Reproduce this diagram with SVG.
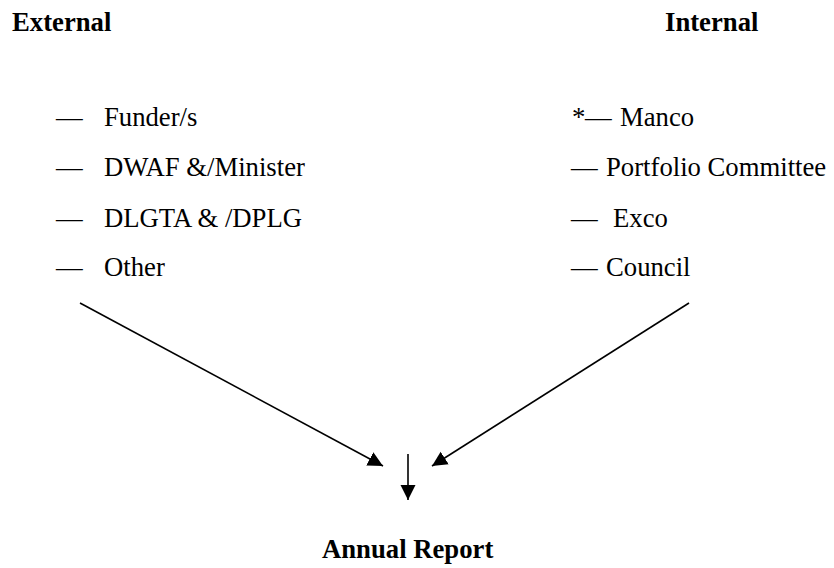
<svg xmlns="http://www.w3.org/2000/svg" width="834" height="568" viewBox="0 0 834 568">
  <style>
    .t { font-family: 'Liberation Serif', 'DejaVu Serif', serif; font-size: 26.7px; fill: #000; }
    .title { font-weight: bold; }
    .conn { stroke: #000; stroke-width: 1.6; fill: none; }
  </style>
  <defs>
    <marker id="arrow" markerUnits="userSpaceOnUse" markerWidth="16" markerHeight="16" viewBox="0 0 16 16" refX="15" refY="8" orient="auto">
      <path d="M0,0.5 L15,8 L0,15.5 Z" fill="#000"/>
    </marker>
  </defs>
  <rect width="834" height="568" fill="#fff"/>

  <g font-family="Liberation Serif, DejaVu Serif, serif" font-size="26.7">
  <g id="external-title"><text class="t title" x="12" y="31">External</text></g>
  <g id="internal-title"><text class="t title" x="665" y="31">Internal</text></g>

  <g id="funders"><text class="t" x="56" y="126">—</text><text class="t" x="104" y="126">Funder/s</text></g>
  <g id="dwaf"><text class="t" x="56" y="176">—</text><text class="t" x="104" y="176">DWAF &amp;/Minister</text></g>
  <g id="dlgta"><text class="t" x="56" y="227">—</text><text class="t" x="104" y="227">DLGTA &amp; /DPLG</text></g>
  <g id="other"><text class="t" x="56" y="276">—</text><text class="t" x="104" y="276">Other</text></g>

  <g id="manco"><text class="t" x="572" y="126">*</text><text class="t" x="585" y="126">—</text><text class="t" x="620" y="126">Manco</text></g>
  <g id="portfolio"><text class="t" x="571" y="176">—</text><text class="t" x="606" y="176">Portfolio Committee</text></g>
  <g id="exco"><text class="t" x="571" y="227">—</text><text class="t" x="613" y="227">Exco</text></g>
  <g id="council"><text class="t" x="571" y="276">—</text><text class="t" x="606" y="276">Council</text></g>

  <g id="annual-report"><text class="t title" x="322" y="558">Annual Report</text></g>
  </g>

  <g id="connectors">
    <line class="conn" x1="80" y1="303" x2="383" y2="466" marker-end="url(#arrow)"/>
    <line class="conn" x1="689" y1="303" x2="432" y2="466" marker-end="url(#arrow)"/>
    <line class="conn" x1="408" y1="454" x2="408" y2="500" marker-end="url(#arrow)"/>
  </g>
</svg>
